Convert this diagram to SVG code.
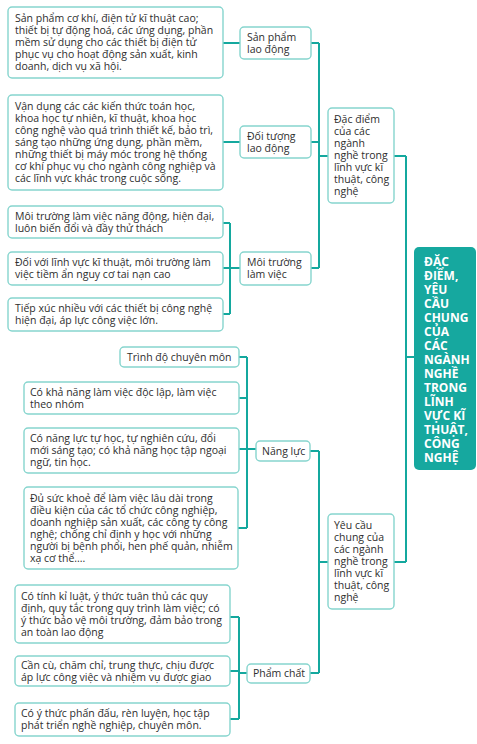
<svg xmlns="http://www.w3.org/2000/svg" width="477" height="744" viewBox="0 0 477 744">
<style>
.box{fill:#ffffff;stroke:#86d5ce;stroke-width:1.4}
.root{fill:#16a89f;stroke:none}
.t{font-family:"Open Sans","Noto Sans",sans-serif;font-size:10.5px;fill:#2e2e2e}
.rt{font-family:"Open Sans","Noto Sans",sans-serif;font-size:12px;font-weight:bold;fill:#ffffff}
.c{fill:none;stroke:#14a89e;stroke-width:2}
</style>
<rect width="477" height="744" fill="#ffffff"/>
<g id="connectors">
<path class="c" d="M223 43H240M223 142H240"/>
<path class="c" d="M223 223H230M223 268H240M223 314H230M230 223V314"/>
<path class="c" d="M311 43H319M311 142H319M311 268H319M319 43V268M319 156H328"/>
<path class="c" d="M394 156H406M394 562H406M406 156V562M406 357H414"/>
<path class="c" d="M239 357H247M239 398H247M239 449H256M238 528H247M247 357V528"/>
<path class="c" d="M310 451H319M310 673H319M319 451V673M319 562H328"/>
<path class="c" d="M230 617H239M230 671H239M230 719H239M239 617V719M239 673H247"/>
</g>
<g id="n-sanpham-desc">
<rect class="box" x="8" y="7" width="215" height="71" rx="4"/>
<text class="t" x="15" y="22.2"><tspan x="15">Sản phẩm cơ khí, điện tử kĩ thuật cao;</tspan><tspan x="15" dy="12">thiết bị tự động hoá, các ứng dụng, phần</tspan><tspan x="15" dy="12">mềm sử dụng cho các thiết bị điện tử</tspan><tspan x="15" dy="12">phục vụ cho hoạt động sản xuất, kinh</tspan><tspan x="15" dy="12">doanh, dịch vụ xã hội.</tspan></text>
</g>
<g id="n-doituong-desc">
<rect class="box" x="8" y="95" width="215" height="95" rx="4"/>
<text class="t" x="15" y="110.2"><tspan x="15">Vận dụng các các kiến thức toán học,</tspan><tspan x="15" dy="12">khoa học tự nhiên, kĩ thuật, khoa học</tspan><tspan x="15" dy="12">công nghệ vào quá trình thiết kế, bảo trì,</tspan><tspan x="15" dy="12">sáng tạo những ứng dụng, phần mềm,</tspan><tspan x="15" dy="12">những thiết bị máy móc trong hệ thống</tspan><tspan x="15" dy="12">cơ khí phục vụ cho ngành công nghiệp và</tspan><tspan x="15" dy="12">các lĩnh vực khác trong cuộc sống.</tspan></text>
</g>
<g id="n-moitruong-1">
<rect class="box" x="8" y="206" width="215" height="32" rx="4"/>
<text class="t" x="15" y="219.7"><tspan x="15">Môi trường làm việc năng động, hiện đại,</tspan><tspan x="15" dy="12">luôn biến đổi và đầy thử thách</tspan></text>
</g>
<g id="n-moitruong-2">
<rect class="box" x="8" y="252" width="215" height="33" rx="4"/>
<text class="t" x="15" y="266.2"><tspan x="15">Đối với lĩnh vực kĩ thuật, môi trường làm</tspan><tspan x="15" dy="12">việc tiềm ẩn nguy cơ tai nạn cao</tspan></text>
</g>
<g id="n-moitruong-3">
<rect class="box" x="8" y="298" width="215" height="33" rx="4"/>
<text class="t" x="15" y="312.2"><tspan x="15">Tiếp xúc nhiều với các thiết bị công nghệ</tspan><tspan x="15" dy="12">hiện đại, áp lực công việc lớn.</tspan></text>
</g>
<g id="n-sanpham">
<rect class="box" x="240" y="27" width="71" height="32" rx="4"/>
<text class="t" x="247" y="40.7"><tspan x="247">Sản phẩm</tspan><tspan x="247" dy="12">lao động</tspan></text>
</g>
<g id="n-doituong">
<rect class="box" x="240" y="126" width="71" height="32" rx="4"/>
<text class="t" x="247" y="139.7"><tspan x="247">Đối tượng</tspan><tspan x="247" dy="12">lao động</tspan></text>
</g>
<g id="n-moitruong">
<rect class="box" x="240" y="252" width="71" height="33" rx="4"/>
<text class="t" x="247" y="266.2"><tspan x="247">Môi trường</tspan><tspan x="247" dy="12">làm việc</tspan></text>
</g>
<g id="n-dacdiem">
<rect class="box" x="328" y="108" width="66" height="95" rx="4"/>
<text class="t" x="334" y="122.7"><tspan x="334">Đặc điểm</tspan><tspan x="334" dy="12">của các</tspan><tspan x="334" dy="12">ngành</tspan><tspan x="334" dy="12">nghề trong</tspan><tspan x="334" dy="12">lĩnh vực kĩ</tspan><tspan x="334" dy="12">thuật, công</tspan><tspan x="334" dy="12">nghệ</tspan></text>
</g>
<g id="n-root">
<rect class="root" x="414" y="247" width="62" height="223" rx="5"/>
<text class="rt" x="424" y="265.5"><tspan x="424">ĐẶC</tspan><tspan x="424" dy="14">ĐIỂM,</tspan><tspan x="424" dy="14">YÊU</tspan><tspan x="424" dy="14">CẦU</tspan><tspan x="424" dy="14">CHUNG</tspan><tspan x="424" dy="14">CỦA</tspan><tspan x="424" dy="14">CÁC</tspan><tspan x="424" dy="14">NGÀNH</tspan><tspan x="424" dy="14">NGHỀ</tspan><tspan x="424" dy="14">TRONG</tspan><tspan x="424" dy="14">LĨNH</tspan><tspan x="424" dy="14">VỰC KĨ</tspan><tspan x="424" dy="14">THUẬT,</tspan><tspan x="424" dy="14">CÔNG</tspan><tspan x="424" dy="14">NGHỆ</tspan></text>
</g>
<g id="n-trinhdo">
<rect class="box" x="120" y="347" width="119" height="20" rx="4"/>
<text class="t" x="127" y="360.7">Trình độ chuyên môn</text>
</g>
<g id="n-nangluc-1">
<rect class="box" x="24" y="382" width="215" height="32" rx="4"/>
<text class="t" x="30" y="395.7"><tspan x="30">Có khả năng làm việc độc lập, làm việc</tspan><tspan x="30" dy="12">theo nhóm</tspan></text>
</g>
<g id="n-nangluc-2">
<rect class="box" x="24" y="428" width="215" height="45" rx="4"/>
<text class="t" x="30" y="442.2"><tspan x="30">Có năng lực tự học, tự nghiên cứu, đổi</tspan><tspan x="30" dy="12">mới sáng tạo; có khả năng học tập ngoại</tspan><tspan x="30" dy="12">ngữ, tin học.</tspan></text>
</g>
<g id="n-nangluc-3">
<rect class="box" x="24" y="487" width="214" height="82" rx="4"/>
<text class="t" x="30" y="501.7"><tspan x="30">Đủ sức khoẻ để làm việc lâu dài trong</tspan><tspan x="30" dy="12">điều kiện của các tổ chức công nghiệp,</tspan><tspan x="30" dy="12">doanh nghiệp sản xuất, các công ty công</tspan><tspan x="30" dy="12">nghệ; chống chỉ định y học với những</tspan><tspan x="30" dy="12">người bị bệnh phổi, hen phế quản, nhiễm</tspan><tspan x="30" dy="12">xạ cơ thể....</tspan></text>
</g>
<g id="n-nangluc">
<rect class="box" x="256" y="441" width="54" height="20" rx="4"/>
<text class="t" x="262" y="454.7">Năng lực</text>
</g>
<g id="n-yeucau">
<rect class="box" x="328" y="514" width="66" height="95" rx="4"/>
<text class="t" x="334" y="528.7"><tspan x="334">Yêu cầu</tspan><tspan x="334" dy="12">chung của</tspan><tspan x="334" dy="12">các ngành</tspan><tspan x="334" dy="12">nghề trong</tspan><tspan x="334" dy="12">lĩnh vực kĩ</tspan><tspan x="334" dy="12">thuật, công</tspan><tspan x="334" dy="12">nghệ</tspan></text>
</g>
<g id="n-phamchat-1">
<rect class="box" x="15" y="585" width="215" height="58" rx="4"/>
<text class="t" x="21" y="599.7"><tspan x="21">Có tính kỉ luật, ý thức tuân thủ các quy</tspan><tspan x="21" dy="12">định, quy tắc trong quy trình làm việc; có</tspan><tspan x="21" dy="12">ý thức bảo vệ môi trường, đảm bảo trong</tspan><tspan x="21" dy="12">an toàn lao động</tspan></text>
</g>
<g id="n-phamchat-2">
<rect class="box" x="15" y="656" width="215" height="30" rx="4"/>
<text class="t" x="21" y="668.7"><tspan x="21">Cần cù, chăm chỉ, trung thực, chịu được</tspan><tspan x="21" dy="12">áp lực công việc và nhiệm vụ được giao</tspan></text>
</g>
<g id="n-phamchat-3">
<rect class="box" x="15" y="703" width="215" height="33" rx="4"/>
<text class="t" x="21" y="717.2"><tspan x="21">Có ý thức phấn đấu, rèn luyện, học tập</tspan><tspan x="21" dy="12">phát triển nghề nghiệp, chuyên môn.</tspan></text>
</g>
<g id="n-phamchat">
<rect class="box" x="247" y="664" width="63" height="19" rx="4"/>
<text class="t" x="253" y="677.2">Phẩm chất</text>
</g>
</svg>
